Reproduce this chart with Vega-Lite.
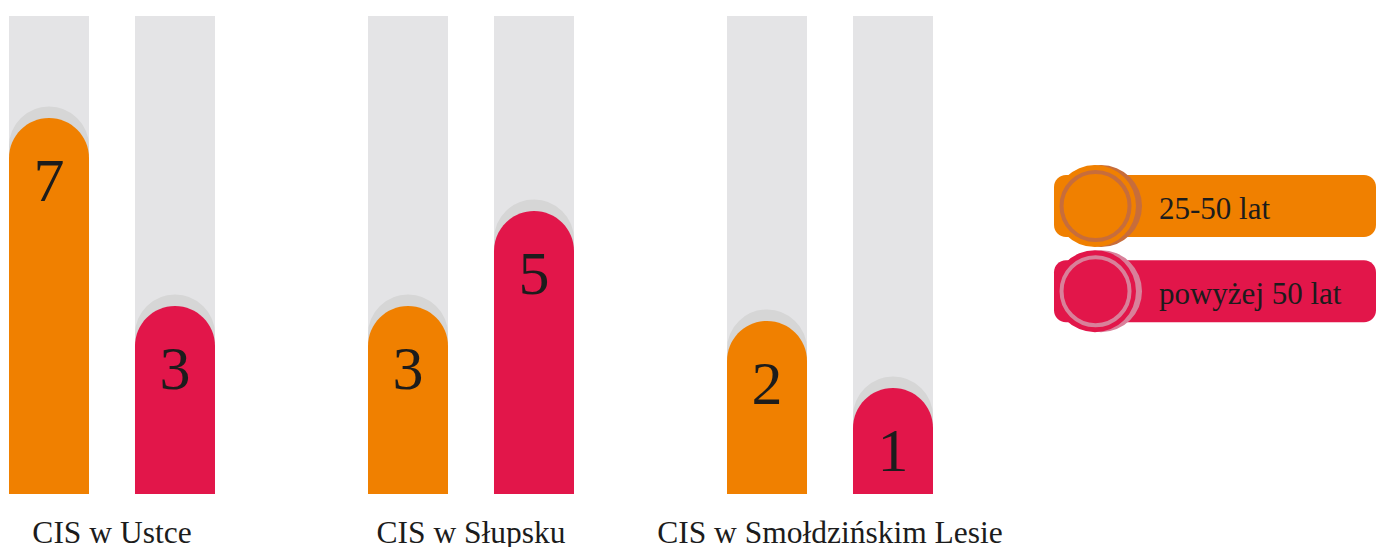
{
  "$schema": "https://vega.github.io/schema/vega-lite/v6.json",
  "background": "white",
  "padding": {"left": 0, "top": 16, "right": 0, "bottom": 0},
  "bounds": "flush",
  "spacing": 112,
  "config": {"view": {"stroke": null}},
  "datasets": {
    "bars": [
      {"group": "CIS w Ustce", "series": "25-50 lat", "value": 7, "level": 78.66},
      {"group": "CIS w Ustce", "series": "powyżej 50 lat", "value": 3, "level": 39.33},
      {"group": "CIS w Słupsku", "series": "25-50 lat", "value": 3, "level": 39.33},
      {"group": "CIS w Słupsku", "series": "powyżej 50 lat", "value": 5, "level": 59.21},
      {"group": "CIS w Smołdzińskim Lesie", "series": "25-50 lat", "value": 2, "level": 36.19},
      {"group": "CIS w Smołdzińskim Lesie", "series": "powyżej 50 lat", "value": 1, "level": 22.18}
    ],
    "legend": [
      {"series": "25-50 lat", "order": 1},
      {"series": "powyżej 50 lat", "order": 2}
    ]
  },
  "hconcat": [
    {
      "width": 942,
      "height": 478,
      "data": {"name": "bars"},
      "encoding": {
        "x": {
          "field": "group", "type": "nominal", "sort": null, "title": null,
          "scale": {"paddingInner": 0.4262, "paddingOuter": 0.02507},
          "axis": {
            "orient": "bottom", "ticks": false, "domain": false, "labelAngle": 0,
            "labelFont": "Liberation Serif", "labelFontSize": 31.5, "labelColor": "#1c1c1c",
            "labelPadding": 48, "labelBaseline": "alphabetic", "labelLimit": 0, "labelOverlap": false
          }
        },
        "xOffset": {
          "field": "series", "type": "nominal", "sort": null,
          "scale": {"paddingInner": 0.365, "paddingOuter": 0}
        }
      },
      "layer": [
        {
          "mark": {"type": "bar", "color": "#e4e4e6"},
          "encoding": {"y": {"datum": 100, "type": "quantitative", "scale": {"domain": [0, 100]}, "axis": null}}
        },
        {
          "mark": {"type": "bar", "width": 57, "fill": "#d6d6d6", "stroke": "#d6d6d6", "strokeWidth": 23, "strokeJoin": "round", "cornerRadiusTopLeft": 28.5, "cornerRadiusTopRight": 28.5, "clip": true},
          "encoding": {"y": {"field": "level", "type": "quantitative", "stack": null}}
        },
        {
          "mark": {"type": "bar", "cornerRadiusTopLeft": 40, "cornerRadiusTopRight": 40},
          "encoding": {
            "y": {"field": "level", "type": "quantitative", "stack": null},
            "color": {"field": "series", "type": "nominal", "sort": null, "scale": {"range": ["#f08000", "#e2164a"]}, "legend": null}
          }
        },
        {
          "mark": {"type": "text", "baseline": "middle", "dy": 64, "font": "Liberation Serif", "fontSize": 62, "color": "#1c1c1c"},
          "encoding": {
            "y": {"field": "level", "type": "quantitative"},
            "text": {"field": "value", "type": "quantitative"}
          }
        }
      ]
    },
    {
      "width": 322,
      "height": 478,
      "data": {"name": "legend"},
      "encoding": {
        "y": {"field": "order", "type": "quantitative", "scale": {"domain": [-1.172, 4.322], "reverse": true, "nice": false, "zero": false}, "axis": null}
      },
      "layer": [
        {
          "mark": {"type": "bar", "height": 62, "cornerRadius": 12},
          "encoding": {
            "x": {"datum": 0, "type": "quantitative", "scale": {"domain": [0, 100]}, "axis": null},
            "x2": {"datum": 100},
            "color": {"field": "series", "type": "nominal", "sort": null, "scale": {"range": ["#f08000", "#e2164a"]}, "legend": null}
          }
        },
        {
          "mark": {"type": "point", "shape": "circle", "filled": true, "size": 6724, "opacity": 1},
          "encoding": {
            "x": {"datum": 14.6, "type": "quantitative"},
            "color": {"field": "series", "type": "nominal", "sort": null, "scale": {"range": ["#c76d3b", "#d9809a"]}, "legend": null}
          }
        },
        {
          "mark": {"type": "point", "shape": "circle", "filled": true, "size": 6724, "opacity": 1},
          "encoding": {
            "x": {"datum": 12.73, "type": "quantitative"},
            "color": {"field": "series", "type": "nominal", "sort": null, "scale": {"range": ["#f08000", "#e2164a"]}, "legend": null}
          }
        },
        {
          "mark": {"type": "point", "shape": "circle", "filled": false, "size": 4624, "strokeWidth": 4, "opacity": 1},
          "encoding": {
            "x": {"datum": 12.9, "type": "quantitative"},
            "color": {"field": "series", "type": "nominal", "sort": null, "scale": {"range": ["#c76d3b", "#d9809a"]}, "legend": null}
          }
        },
        {
          "mark": {"type": "text", "align": "left", "baseline": "alphabetic", "dy": 13, "font": "Liberation Serif", "fontSize": 31, "color": "#1c1c1c"},
          "encoding": {
            "x": {"datum": 32.6, "type": "quantitative"},
            "text": {"field": "series", "type": "nominal"}
          }
        }
      ],
      "resolve": {"scale": {"color": "independent"}}
    }
  ]
}
